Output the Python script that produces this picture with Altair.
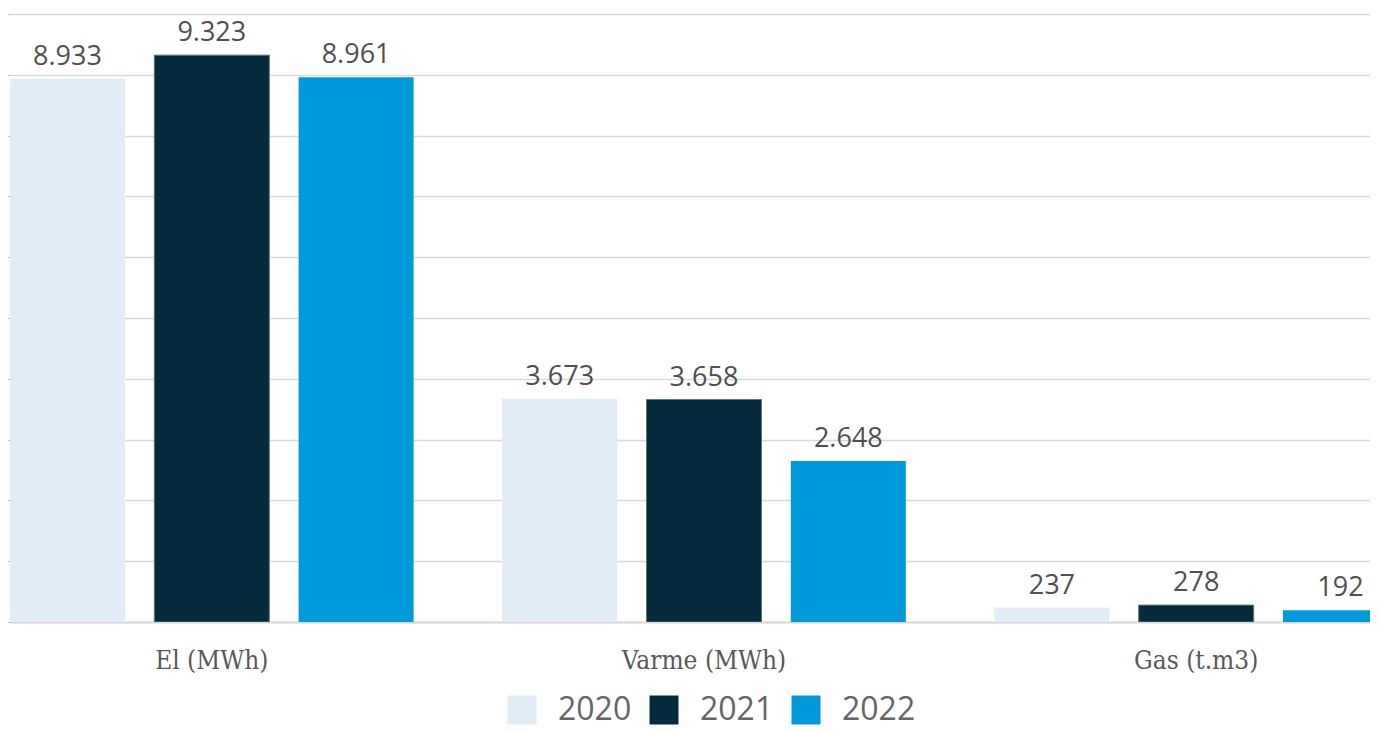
import altair as alt
import pandas as pd

categories = ["El (MWh)", "Varme (MWh)", "Gas (t.m3)"]
years = ["2020", "2021", "2022"]
values_2020 = [8933, 3673, 237]
values_2021 = [9323, 3658, 278]
values_2022 = [8961, 2648, 192]
colors = ["#E2EDF8", "#032B3B", "#0099D9"]

rows = []
for yr, vals in zip(years, [values_2020, values_2021, values_2022]):
    for cat, v in zip(categories, vals):
        rows.append({"kategori": cat, "aar": yr, "vaerdi": v})
df = pd.DataFrame(rows)

base = alt.Chart(df).transform_calculate(
    label="replace(format(datum.vaerdi, ','), ',', '.')"
).encode(
    x=alt.X(
        "kategori:N",
        sort=categories,
        scale=alt.Scale(range=[0, 1388], paddingInner=0.18, paddingOuter=0),
        axis=alt.Axis(
            title=None,
            labelAngle=0,
            labelFont="DejaVu Serif Condensed, Liberation Serif",
            labelFontSize=26,
            labelColor="#595959",
            labelPadding=25,
            ticks=False,
            domainColor="#d9d9d9",
            domainWidth=2,
        ),
    ),
    xOffset=alt.XOffset(
        "aar:N", sort=years, scale=alt.Scale(paddingInner=0.203, paddingOuter=0)
    ),
    y=alt.Y(
        "vaerdi:Q",
        scale=alt.Scale(domain=[0, 10000], nice=False),
        axis=alt.Axis(
            title=None,
            labels=False,
            domain=False,
            values=list(range(0, 10001, 1000)),
            gridColor="#d9d9d9",
            gridWidth=1.5,
            tickSize=2,
            tickColor="#a6a6a6",
        ),
    ),
)

bars = base.mark_bar(clip=True, strokeWidth=1).encode(
    color=alt.Color(
        "aar:N",
        sort=years,
        scale=alt.Scale(domain=years, range=colors),
        legend=alt.Legend(
            title=None,
            orient="none",
            legendX=496,
            legendY=680,
            direction="horizontal",
            symbolType="square",
            symbolSize=841,
            symbolStrokeWidth=0,
            labelFont="Open Sans",
            labelFontSize=32,
            labelColor="#666666",
            labelOffset=20,
            columnPadding=16,
        ),
    ),
    stroke=alt.condition(
        "datum.aar == '2021'", alt.value("#5b7380"), alt.value("transparent")
    ),
)

labels = base.mark_text(
    baseline="alphabetic", dy=-14, font="Open Sans", fontSize=27, color="#505050"
).encode(text="label:N")

chart = (
    alt.layer(bars, labels)
    .properties(
        width=1360,
        height=608,
        autosize=alt.AutoSizeParams(type="none"),
        padding={"left": 2, "top": 6, "right": 0, "bottom": 109},
        background="white",
    )
    .configure_view(stroke=None)
)

chart.save("out.html", embed_options={"renderer": "svg", "actions": False})
